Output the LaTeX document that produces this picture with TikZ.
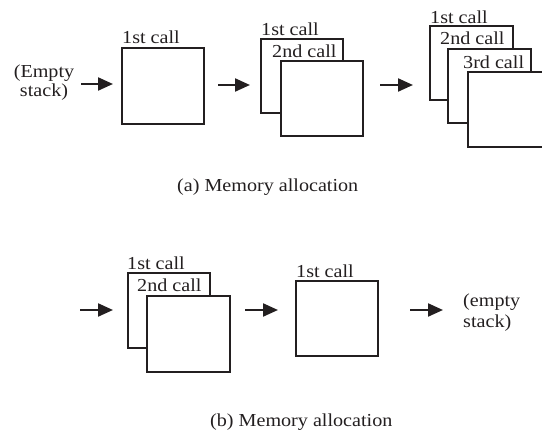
\documentclass[tikz,border=0pt]{standalone}
\usepackage{fontspec}
\setmainfont{Liberation Serif}[FakeStretch=1.1]
\usetikzlibrary{arrows.meta}
\definecolor{ink}{HTML}{231F20}
\begin{document}
\begin{tikzpicture}[x=1pt,y=-1pt,
  frame/.style={draw=ink, line width=2.2pt, fill=white, minimum width=82pt, minimum height=75pt, inner sep=0pt, outer sep=0pt, anchor=north west},
  lbl/.style={font=\fontsize{18.3}{20}\selectfont, text=ink, inner sep=0pt, anchor=base west},
  arr/.style={draw=ink, line width=2.2pt, -{Triangle[length=15pt,width=13pt]}},
]
\useasboundingbox (0,0) rectangle (542,435);
\clip (0,0) rectangle (542,435);

% ---- (a) top row ----
\node[lbl, align=center, anchor=base, font=\fontsize{18.3}{19.5}\selectfont] (emptyA) at (44,97) {(Empty\\stack)};
\coordinate (t1s) at (81,84);
\coordinate (t1e) at (113,84);
\draw[arr] (t1s) -- (t1e);

\node[frame, minimum height=76pt] (a1) at (122,48) {};
\node[lbl] (a1l) at (122,44) {1st call};

\coordinate (t2s) at (218,85);
\coordinate (t2e) at (250,85);
\draw[arr] (t2s) -- (t2e);

\node[frame, minimum height=74pt] (b1) at (261,39) {};
\node[lbl] (b1l) at (261,36) {1st call};
\node[lbl] (b2l) at (272,58) {2nd call};
\node[frame] (b2) at (281,61) {};

\coordinate (t3s) at (380,85);
\coordinate (t3e) at (413,85);
\draw[arr] (t3s) -- (t3e);

\node[frame, minimum width=83pt, minimum height=74pt] (c1) at (430,26) {};
\node[lbl] (c1l) at (430,24) {1st call};
\node[lbl] (c2l) at (440,45) {2nd call};
\node[frame, minimum width=83pt, minimum height=74pt] (c2) at (448,49) {};
\node[lbl] (c3l) at (463,69) {3rd call};
\node[frame] (c3) at (468,72) {};

\node[lbl] (capA) at (177,192) {(a) Memory allocation};

% ---- (b) bottom row ----
\coordinate (u1s) at (80,310);
\coordinate (u1e) at (113,310);
\draw[arr] (u1s) -- (u1e);

\node[frame] (d1) at (128,273) {};
\node[lbl] (d1l) at (127,270) {1st call};
\node[lbl] (d2l) at (137,292) {2nd call};
\node[frame, minimum width=83pt, minimum height=76pt] (d2) at (147,296) {};

\coordinate (u2s) at (245,310);
\coordinate (u2e) at (278,310);
\draw[arr] (u2s) -- (u2e);

\node[frame] (e1) at (296,281) {};
\node[lbl] (e1l) at (296,278) {1st call};

\coordinate (u3s) at (410,310);
\coordinate (u3e) at (443,310);
\draw[arr] (u3s) -- (u3e);

\node[lbl, align=left, font=\fontsize{18.3}{21}\selectfont] (emptyB) at (463,328) {(empty\\stack)};

\node[lbl] (capB) at (210,427) {(b) Memory allocation};
\end{tikzpicture}
\end{document}
